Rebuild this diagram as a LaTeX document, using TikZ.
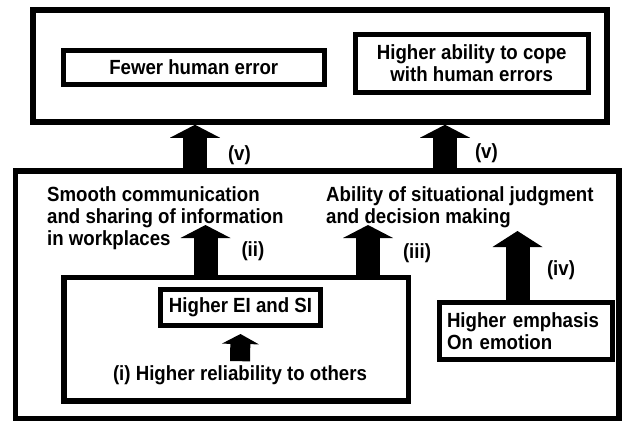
\documentclass[tikz,border=0pt]{standalone}
\usepackage{fontspec}
\setmainfont{Liberation Sans}[FakeStretch=0.91]
\usetikzlibrary{arrows.meta,positioning}
\newcommand{\diagfont}{\fontsize{20.5}{22}\selectfont\bfseries}
\tikzset{
  frameBox/.style={draw, line width=5.5pt, inner sep=0pt},
  textBox/.style={draw, line width=5pt, align=center, inner sep=0pt, font=\diagfont},
  plainText/.style={align=left, inner sep=0pt, font=\diagfont},
  stepLabel/.style={inner sep=0pt, font=\diagfont},
  blockArrow/.style={line width=24pt, -{Triangle[width=50pt,length=13pt,line width=0pt]}},
  smallArrow/.style={line width=20pt, -{Triangle[width=37pt,length=10pt,line width=0pt]}}
}

\begin{document}
\begin{tikzpicture}[x=1pt, y=-1pt]
  \useasboundingbox (0,0) rectangle (622,421);

  % outcomes
  \node[frameBox, minimum width=574pt, minimum height=112pt] (outcome) at (320,66) {};
  \node[textBox, minimum width=260.5pt, minimum height=34pt] (fewer) at (193.75,67.5) {Fewer human error};
  \node[textBox, minimum width=233.5pt, minimum height=58pt] (cope) at (471.75,63.5) {Higher ability to cope\\with human errors};

  % factors
  \node[frameBox, minimum width=603.5pt, minimum height=247.5pt] (factors) at (317.25,294.75) {};
  \node[plainText, anchor=north west] (comm) at (47,186) {Smooth communication\\and sharing of information\\in workplaces};
  \node[plainText, anchor=north west] (judge) at (326,186) {Ability of situational judgment\\and decision making};

  \node[frameBox, minimum width=344.5pt, minimum height=123.5pt] (personal) at (236.25,339.25) {};
  \node[textBox, minimum width=160pt, minimum height=36pt] (eisi) at (240.5,307.5) {Higher EI and SI};
  \node[stepLabel] (trust) at (240,375) {(i) Higher reliability to others};
  \node[textBox, align=left, text width=158pt, inner xsep=7.5pt, minimum width=173pt, minimum height=57.5pt] (emotion) at (526,330.75) {Higher emphasis\\On emotion};

  \coordinate (vA) at (195,122);
  \coordinate (vB) at (445,122);
  \coordinate (commTip) at (205.5,225);
  \coordinate (judgeTip) at (368,225);
  \coordinate (emoTip) at (517.5,231);

  \draw[smallArrow] ([yshift=4pt]trust.north) -- ([yshift=-6pt]eisi.south);
  \draw[blockArrow] (personal.north -| commTip) -- node[stepLabel, pos=0.47, right=24pt] {(ii)} (commTip);
  \draw[blockArrow] (personal.north -| judgeTip) -- node[stepLabel, pos=0.44, right=23pt] {(iii)} (judgeTip);
  \draw[blockArrow, arrows={-Triangle[width=50pt,length=16pt,line width=0pt]}] (emotion.north -| emoTip) -- node[stepLabel, pos=0.43, right=17.5pt] {(iv)} (emoTip);
  \draw[blockArrow] (factors.north -| vA) -- node[stepLabel, pos=0.31, right=21pt] {(v)} (outcome.south -| vA);
  \draw[blockArrow] (factors.north -| vB) -- node[stepLabel, pos=0.35, right=18pt] {(v)} (outcome.south -| vB);
\end{tikzpicture}
\end{document}
